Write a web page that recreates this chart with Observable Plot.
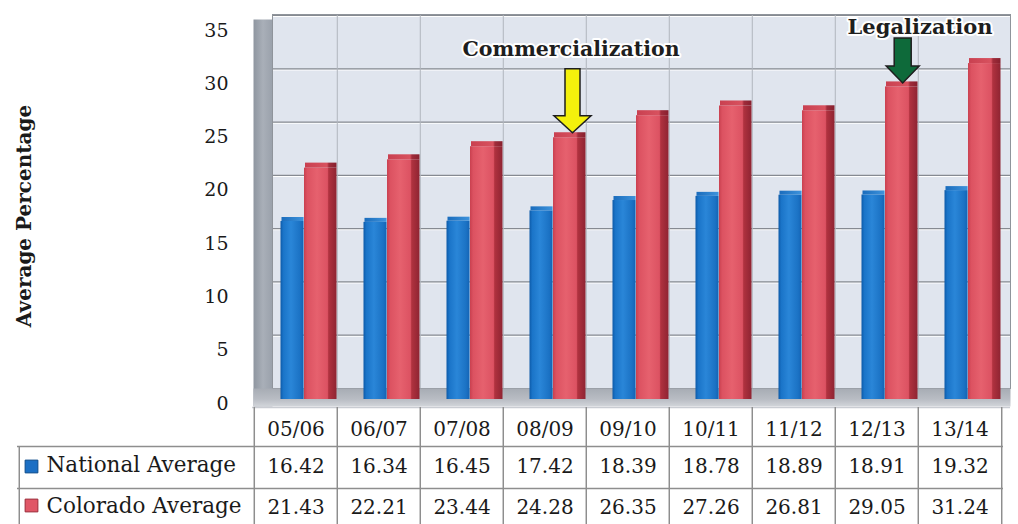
<!DOCTYPE html>
<html><head><meta charset="utf-8">
<script src="https://cdn.jsdelivr.net/npm/d3@7"></script>
<script src="https://cdn.jsdelivr.net/npm/@observablehq/plot@0.6"></script>
<style>html,body{margin:0;padding:0;background:#fff}</style>
</head><body><div id="chart"></div>
<script>
// ---- data ----
const categories = ["05/06","06/07","07/08","08/09","09/10","10/11","11/12","12/13","13/14"];
const nationalAverage = [16.42,16.34,16.45,17.42,18.39,18.78,18.89,18.91,19.32];
const coloradoAverage = [21.43,22.21,23.44,24.28,26.35,27.26,26.81,29.05,31.24];
const seriesNames = ["National Average","Colorado Average"];
const yTicks = [0,5,10,15,20,25,30,35];
const yAxisTitle = "Average Percentage";
const annotationLabels = ["Commercialization","Legalization"];
const annotationCategories = ["08/09","12/13"];

const national = categories.map((c,i)=>({category:c, value:nationalAverage[i]}));
const colorado = categories.map((c,i)=>({category:c, value:coloradoAverage[i]}));
const annotations = annotationLabels.map((l,i)=>({label:l, category:annotationCategories[i],
  value: coloradoAverage[categories.indexOf(annotationCategories[i])]}));

// ---- layout ----
const W=1018, H=524, ML=252, MR=15, MT=23, MB=128;
const frameH = H-MT-MB;
const bw = (W-ML-MR)/categories.length;
const FONT = "DejaVu Serif";
const lineColor = "#8e8e8e";
const textColor = "#1a1a1a";

function blockArrow(w, W2, h){
  return {draw(ctx, l){
    ctx.moveTo(-w,0); ctx.lineTo(-w,-l+h); ctx.lineTo(-W2,-l+h); ctx.lineTo(0,-l);
    ctx.lineTo(W2,-l+h); ctx.lineTo(w,-l+h); ctx.lineTo(w,0); ctx.closePath();
  }};
}

const svg = Plot.plot({
  width: W, height: H,
  marginLeft: ML, marginRight: MR, marginTop: MT, marginBottom: MB,
  style: {background:"#fff", fontFamily: FONT, overflow:"visible"},
  x: {type:"band", domain: categories, padding: 0, axis: null},
  y: {domain: [0,35], axis: null},
  marks: [
    // left wall
    Plot.frame({insetLeft:1, insetRight: bw*categories.length-20, insetTop:-4, insetBottom:-10, fill:"url(#gWall)", stroke:"none"}),
    // back wall
    Plot.frame({insetLeft:20, insetRight:-7, insetTop:-9, insetBottom:8, fill:"#e0e5ee", stroke:"#8f949b"}),
    // floor
    Plot.frame({insetLeft:1, insetRight:-7, insetTop: frameH-8, insetBottom:-10, fill:"url(#gFloor)", stroke:"none"}),
    // gridlines on back wall
    Plot.ruleY(yTicks.filter(d=>d>0), {y:d=>d, dy:-7, insetLeft:21, insetRight:-7, stroke:"#ffffff", strokeWidth:1.2}),
    Plot.ruleY(yTicks.filter(d=>d>0), {y:d=>d, dy:-8, insetLeft:21, insetRight:-7, stroke:"#868a91", strokeWidth:1.2}),
    Plot.ruleX(categories.slice(1), {x:d=>d, dx:-bw/2, insetTop:-8, insetBottom:8, stroke:"#b0b5bd", strokeWidth:1}),
    // y tick labels
    Plot.text(yTicks, {y:d=>d, text:d=>String(d), frameAnchor:"left", dx:-24, dy:7, textAnchor:"end", fontSize:19, fill:textColor}),
    // y axis title
    Plot.text([yAxisTitle], {text:d=>d, frameAnchor:"left", dx:-(ML-24), dy:6, rotate:-90, textAnchor:"middle", lineAnchor:"middle",
      fontSize:20, fontWeight:"bold", fill:textColor}),
    // bars
    Plot.barY(national, {x:"category", y:"value", fill:"url(#gBlue)", insetLeft:26.5, insetRight:bw-50, insetBottom:-3}),
    Plot.barY(national, {x:"category", y1:"value", y2:"value", fill:"url(#gBlueTop)", insetLeft:27.5, insetRight:bw-50, insetTop:-4}),
    Plot.barY(colorado, {x:"category", y:"value", fill:"url(#gRed)", insetLeft:50, insetRight:0.5, insetBottom:-3}),
    Plot.barY(colorado, {x:"category", y1:"value", y2:"value", fill:"url(#gRedTop)", insetLeft:51, insetRight:0.5, insetTop:-5}),
    // annotation arrows
    Plot.vector([annotations[0]], {x:"category", y:"value", dx:27.5, dy:-5, rotate:180, anchor:"end", length:64,
      shape: blockArrow(7.5,18.5,17), fill:"#f4f10c", stroke:"#1e1e1e", strokeWidth:1.5, strokeLinejoin:"miter"}),
    Plot.vector([annotations[1]], {x:"category", y:"value", dx:25.7, dy:-4, rotate:180, anchor:"end", length:45,
      shape: blockArrow(8.5,16.5,17), fill:"#0e6a3a", stroke:"#1e1e1e", strokeWidth:1.5, strokeLinejoin:"miter"}),
    // annotation labels
    Plot.text([annotations[0]], {x:"category", y:"value", text:"label", dx:26, dy:-88, fontSize:20.5, fontWeight:"bold",
      fill:"#1e1e1e", stroke:"#ffffff", strokeWidth:4, paintOrder:"stroke"}),
    Plot.text([annotations[1]], {x:"category", y:"value", text:"label", dx:43, dy:-60, fontSize:21, fontWeight:"bold",
      fill:"#1e1e1e", stroke:"#ffffff", strokeWidth:4, paintOrder:"stroke"}),
    // data table lines
    Plot.ruleY([0], {dy:11, insetRight:-7, stroke:"#c9ccd2", strokeWidth:1.5}),
    Plot.ruleY([0], {dy:50, insetLeft:-(ML-17), stroke:lineColor, strokeWidth:1.5}),
    Plot.ruleY([0], {dy:92, insetLeft:-(ML-17), stroke:lineColor, strokeWidth:1.5}),
    Plot.ruleX(categories, {x:d=>d, dx:-bw/2, insetTop:frameH+11, insetBottom:-MB, stroke:lineColor, strokeWidth:1.5}),
    Plot.ruleX([categories[categories.length-1]], {x:d=>d, dx:bw/2, insetTop:frameH+11, insetBottom:-MB, stroke:lineColor, strokeWidth:1.5}),
    Plot.ruleX([categories[0]], {x:d=>d, dx:-bw/2-(ML-17), insetTop:frameH+50, insetBottom:-MB, stroke:lineColor, strokeWidth:1.5}),
    // data table text
    Plot.text(categories, {x:d=>d, text:d=>d, frameAnchor:"bottom", lineAnchor:"middle", dy:33, fontSize:20, fill:textColor}),
    Plot.text(national, {x:"category", text:d=>d.value.toFixed(2), frameAnchor:"bottom", lineAnchor:"middle", dy:70, fontSize:20, fill:textColor}),
    Plot.text(colorado, {x:"category", text:d=>d.value.toFixed(2), frameAnchor:"bottom", lineAnchor:"middle", dy:111, fontSize:20, fill:textColor}),
    // legend in table
    Plot.dot([seriesNames[0]], {frameAnchor:"bottom-left", dx:31-ML, dy:70, symbol:"square", r:7.2, fill:"#1b6fc4", stroke:"#0b4a8a", strokeWidth:1}),
    Plot.dot([seriesNames[1]], {frameAnchor:"bottom-left", dx:31-ML, dy:109, symbol:"square", r:7.2, fill:"#e05666", stroke:"#9a2a38", strokeWidth:1}),
    Plot.text([seriesNames[0]], {text:d=>d, frameAnchor:"bottom-left", lineAnchor:"middle", dx:46-ML, dy:69, textAnchor:"start", fontSize:21.5, fill:textColor}),
    Plot.text([seriesNames[1]], {text:d=>d, frameAnchor:"bottom-left", lineAnchor:"middle", dx:46-ML, dy:110, textAnchor:"start", fontSize:21.5, fill:textColor})
  ]
});

// gradients for 3D look
const defs = d3.select(svg).insert("defs", ":first-child");
function grad(id, stops, vertical){
  const g = defs.append("linearGradient").attr("id", id)
    .attr("x1",0).attr("y1",0).attr("x2", vertical?0:1).attr("y2", vertical?1:0);
  stops.forEach(([o,c])=>g.append("stop").attr("offset",o).attr("stop-color",c));
}
grad("gBlue", [[0,"#0d5aa8"],[0.12,"#1a74c8"],[0.45,"#2a86d8"],[0.85,"#1b72c4"],[1,"#1463b4"]]);
grad("gBlueTop", [[0,"#1a6cbc"],[1,"#3e93dc"]]);
grad("gRed", [[0,"#c9404f"],[0.1,"#dc5261"],[0.4,"#e6616e"],[0.72,"#dc5262"],[0.76,"#b0323f"],[1,"#8f2432"]]);
grad("gRedTop", [[0,"#c94050"],[0.7,"#d8525f"],[0.76,"#a02c3a"],[1,"#87202e"]]);
grad("gWall", [[0,"#8f96a0"],[0.5,"#a9afb8"],[1,"#9aa1ab"]]);
grad("gFloor", [[0,"#a7acb4"],[0.6,"#b9bdc4"],[1,"#d2d5da"]], true);

document.getElementById("chart").appendChild(svg);
</script>
</body></html>
